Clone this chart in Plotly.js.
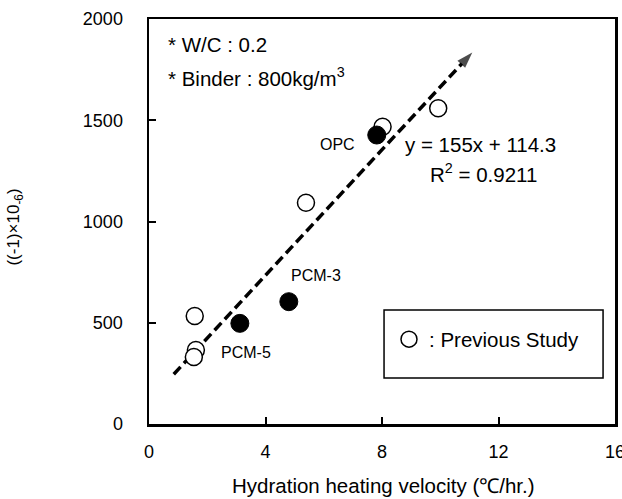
<!DOCTYPE html>
<html>
<head>
<meta charset="utf-8">
<script src="https://cdn.plot.ly/plotly-3.0.1.min.js"></script>
<style>html,body{margin:0;padding:0;background:#fff;}#chart{width:622px;height:499px;}</style>
</head>
<body>
<div id="chart"></div>
<script>
// Previous study (open circles)
const prevX = [1.57, 1.61, 1.54, 5.39, 8.02, 9.93];
const prevY = [533, 365, 331, 1093, 1468, 1559];
// This study (filled circles)
const mixLabels = ['OPC', 'PCM-3', 'PCM-5'];
const mixX = [7.82, 4.80, 3.12];
const mixY = [1427, 604, 497];
// Trend line (read endpoints of the dashed arrow)
const trendX = [0.85, 11.1];
const trendY = [246, 1835];
// Axis ticks
const xTicks = [0, 4, 8, 12, 16];
const yTicks = [0, 500, 1000, 1500, 2000];

const FONT = '"Liberation Sans", Arial, sans-serif';
const NARROW = '"Liberation Sans Narrow", "Arial Narrow", "Liberation Sans", Arial, sans-serif';

const traces = [
  {
    x: trendX, y: trendY, type: 'scatter', mode: 'lines+markers',
    line: {color: '#000', width: 3.5, dash: '10px,5px'},
    marker: {symbol: ['circle', 'arrow'], size: [0, 17], color: '#000', angleref: 'previous', line: {width: 0}},
    showlegend: false, hoverinfo: 'skip'
  },
  {
    x: prevX, y: prevY, type: 'scatter', mode: 'markers', name: ': Previous Study',
    marker: {symbol: 'circle', size: 17, color: 'rgba(255,255,255,1)', line: {color: '#000', width: 1.5}},
    showlegend: true
  },
  {
    x: mixX, y: mixY, text: mixLabels, type: 'scatter', mode: 'markers', name: 'This study',
    marker: {symbol: 'circle', size: 18, color: '#000', line: {color: '#000', width: 1}},
    showlegend: false
  }
];

const labelPos = [[6.46, 1378], [5.73, 731], [3.34, 352]];
const annotations = mixLabels.map((t, i) => ({
  x: labelPos[i][0], y: labelPos[i][1], xref: 'x', yref: 'y', text: t, showarrow: false,
  xanchor: 'center', yanchor: 'middle', font: {family: NARROW, size: 16, color: '#000'}
}));
annotations.push(
  {x: 0.58, y: 1872, xref: 'x', yref: 'y', text: '* W/C : 0.2', showarrow: false, xanchor: 'left', yanchor: 'middle', font: {family: FONT, size: 20.5, color: '#000'}},
  {x: 0.58, y: 1713, xref: 'x', yref: 'y', text: '* Binder : 800kg/m<sup>3</sup>', showarrow: false, xanchor: 'left', yanchor: 'middle', font: {family: FONT, size: 20.5, color: '#000'}},
  {x: 8.72, y: 1378, xref: 'x', yref: 'y', text: 'y = 155x + 114.3', showarrow: false, xanchor: 'left', yanchor: 'middle', font: {family: FONT, size: 20.5, color: '#000'}},
  {x: 9.57, y: 1240, xref: 'x', yref: 'y', text: 'R<sup>2</sup> = 0.9211', showarrow: false, xanchor: 'left', yanchor: 'middle', font: {family: FONT, size: 20.5, color: '#000'}},
  {x: -0.288, y: 0.487, xref: 'paper', yref: 'paper', text: '((-1)×10<sub>-6</sub>)', textangle: -90, showarrow: false, xanchor: 'center', yanchor: 'middle', font: {family: FONT, size: 17, color: '#000'}},
  {x: 0.503, y: -0.151, xref: 'paper', yref: 'paper', text: 'Hydration heating velocity (℃/hr.)', showarrow: false, xanchor: 'center', yanchor: 'middle', font: {family: FONT, size: 20.5, color: '#000'}}
);

const layout = {
  width: 622, height: 499,
  margin: {l: 149, r: 7, t: 19, b: 75},
  paper_bgcolor: '#fff', plot_bgcolor: '#fff',
  font: {family: FONT, color: '#000'},
  xaxis: {
    range: [0, 16], tickvals: xTicks, ticktext: xTicks.map(String),
    showgrid: false, zeroline: false, showline: true, mirror: true, linecolor: '#000', linewidth: 2.5,
    ticks: 'inside', ticklen: 7, tickwidth: 2, tickcolor: '#000', ticklabeloverflow: 'allow',
    tickfont: {family: FONT, size: 18, color: '#000'}, ticklabelstandoff: 10, fixedrange: true
  },
  yaxis: {
    range: [0, 2000], tickvals: yTicks, ticktext: yTicks.map(String),
    showgrid: false, zeroline: false, showline: true, mirror: true, linecolor: '#000', linewidth: 2.5,
    ticks: 'inside', ticklen: 7, tickwidth: 2, tickcolor: '#000', ticklabeloverflow: 'allow',
    tickfont: {family: NARROW, size: 18, color: '#000'}, ticklabelstandoff: 20, fixedrange: true
  },
  shapes: [
    {type: 'rect', xref: 'x', yref: 'y', x0: 8.07, x1: 15.59, y0: 227, y1: 563, line: {color: '#000', width: 1.5}, fillcolor: 'rgba(0,0,0,0)'}
  ],
  legend: {
    x: 0.515, y: 0.209, xanchor: 'left', yanchor: 'middle', bgcolor: 'rgba(0,0,0,0)', borderwidth: 0,
    font: {family: FONT, size: 20.5, color: '#000'}
  },
  annotations: annotations
};

Plotly.newPlot('chart', traces, layout, {displayModeBar: false, staticPlot: true});
</script>
</body>
</html>
